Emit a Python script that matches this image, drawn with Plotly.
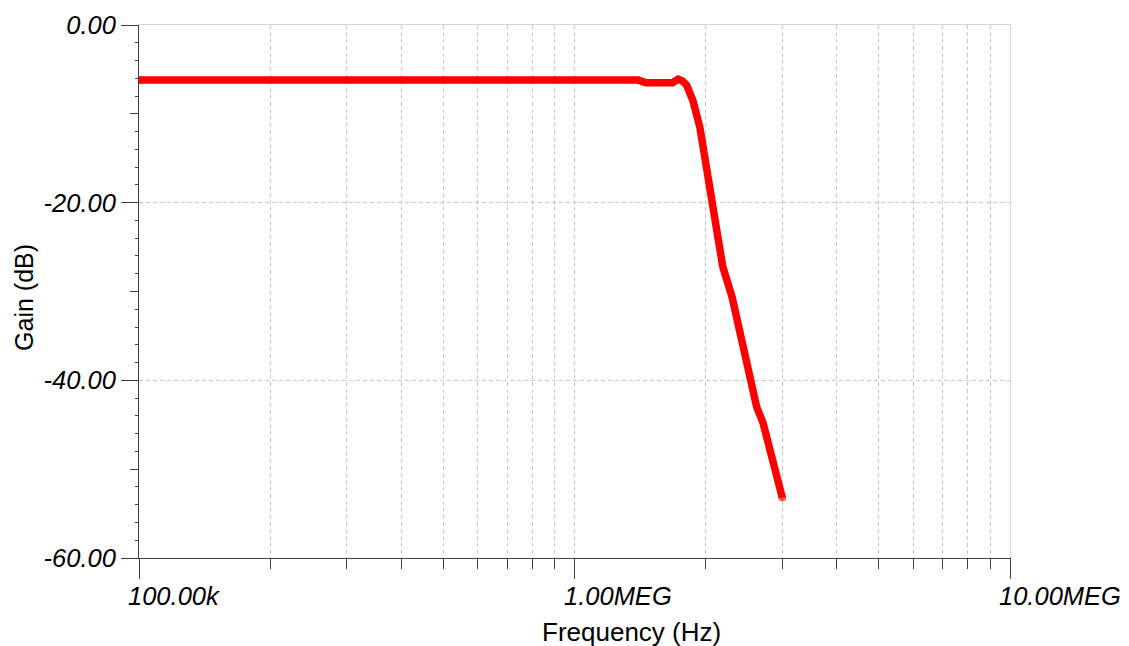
import math
import plotly.graph_objects as go

# ---- data ----
freq_hz = [100e3, 1.40e6, 1.46e6, 1.68e6, 1.73e6, 1.77e6, 1.81e6, 1.87e6, 1.94e6,
           2.03e6, 2.08e6, 2.19e6, 2.30e6, 2.42e6, 2.53e6, 2.62e6, 2.71e6, 2.86e6, 3.00e6]
gain_db = [-6.2, -6.2, -6.5, -6.5, -6.1, -6.3, -6.8, -8.5, -11.5,
           -17.8, -20.8, -27.2, -30.6, -35.5, -40.0, -43.0, -44.8, -49.0, -53.2]

x_major_vals = [1e5, 1e6, 1e7]
x_major_text = ["100.00k", "1.00MEG", "10.00MEG"]
x_minor_vals = [m * d for d in (1e5, 1e6) for m in range(2, 10)]
y_major_vals = [-60, -40, -20, 0]
y_major_text = ["-60.00", "-40.00", "-20.00", "0.00"]
y_mid_vals = [-50, -30, -10]

x_title = "Frequency (Hz)"
y_title = "Gain (dB)"

AXIS = "#404040"
GRID = "#c8c8c8"
BORDER = "#d4d4d4"
FONT = "Liberation Sans, Arial, sans-serif"

fig = go.Figure()
fig.add_trace(go.Scatter(x=freq_hz, y=gain_db, mode="lines+markers",
                         line=dict(color="#ff0000", width=7.5),
                         marker=dict(color="#ff0000", line=dict(width=0),
                                     size=[7.5] + [0] * (len(freq_hz) - 2) + [7.5]),
                         showlegend=False, hoverinfo="skip"))
# helper empty traces to materialise overlay axes
fig.add_trace(go.Scatter(x=[], y=[], xaxis="x", yaxis="y2", showlegend=False))
fig.add_trace(go.Scatter(x=[], y=[], xaxis="x2", yaxis="y3", showlegend=False))

tickfont = dict(family=FONT, size=25.5, color="#000000", style="italic")

# x tick labels: left-anchored just before each major tick (as in the reference)
x_label_annots = [
    dict(text=t, xref="x", yref="paper", x=math.log10(v), y=0,
         xanchor="left", yanchor="middle", xshift=-13, yshift=-38,
         showarrow=False, font=tickfont)
    for v, t in zip(x_major_vals, x_major_text)
]

fig.update_layout(
    width=1129, height=646,
    margin=dict(l=139, r=119, t=25, b=88),
    paper_bgcolor="white", plot_bgcolor="white",
    showlegend=False,
    xaxis=dict(type="log", range=[5, 7], tickmode="array",
               tickvals=x_major_vals, ticktext=x_major_text, showticklabels=False,
               ticks="outside", ticklen=20, tickcolor=AXIS, tickwidth=1,
               showline=True, linecolor=AXIS, linewidth=1,
               showgrid=True, gridcolor=GRID, gridwidth=1, griddash="4px,3px",
               zeroline=False, tickfont=tickfont,
               minor=dict(tickmode="array", tickvals=x_minor_vals, ticks="outside",
                          ticklen=10, tickcolor=AXIS, tickwidth=1,
                          showgrid=True, gridcolor=GRID, gridwidth=1, griddash="4px,3px")),
    yaxis=dict(range=[-60, 0], tickmode="array",
               tickvals=y_major_vals, ticktext=y_major_text,
               ticks="outside", ticklen=17, tickcolor=AXIS, tickwidth=1,
               showline=True, linecolor=AXIS, linewidth=1,
               showgrid=True, gridcolor=GRID, gridwidth=1, griddash="4px,3px",
               zeroline=False, tickfont=tickfont,
               minor=dict(dtick=2, tick0=0, ticks="outside", ticklen=3,
                          tickcolor=AXIS, tickwidth=1, showgrid=False)),
    yaxis2=dict(overlaying="y", side="left", range=[-60, 0], tickmode="array",
                tickvals=y_mid_vals, ticks="outside", ticklen=8, tickcolor=AXIS,
                showticklabels=False, showgrid=False, zeroline=False, showline=False),
    xaxis2=dict(overlaying="x", side="top", anchor="y3", type="log", range=[5, 7],
                showline=True, linecolor=BORDER, linewidth=1, ticks="",
                showticklabels=False, showgrid=False, zeroline=False),
    yaxis3=dict(overlaying="y", side="right", anchor="x2", range=[-60, 0],
                showline=True, linecolor=BORDER, linewidth=1, ticks="",
                showticklabels=False, showgrid=False, zeroline=False),
    annotations=x_label_annots + [
        dict(text=x_title, xref="paper", yref="paper", x=(631 - 139) / 871, y=-0.138,
             xanchor="center", yanchor="middle", showarrow=False,
             font=dict(family=FONT, size=26, color="#000000")),
        dict(text=y_title, xref="paper", yref="paper", x=-0.132, y=0.488,
             xanchor="center", yanchor="middle", showarrow=False, textangle=-90,
             font=dict(family=FONT, size=25, color="#000000")),
    ],
)

fig.write_html("out.html", config={"displayModeBar": False},
               post_script="document.body.style.margin='0';")
